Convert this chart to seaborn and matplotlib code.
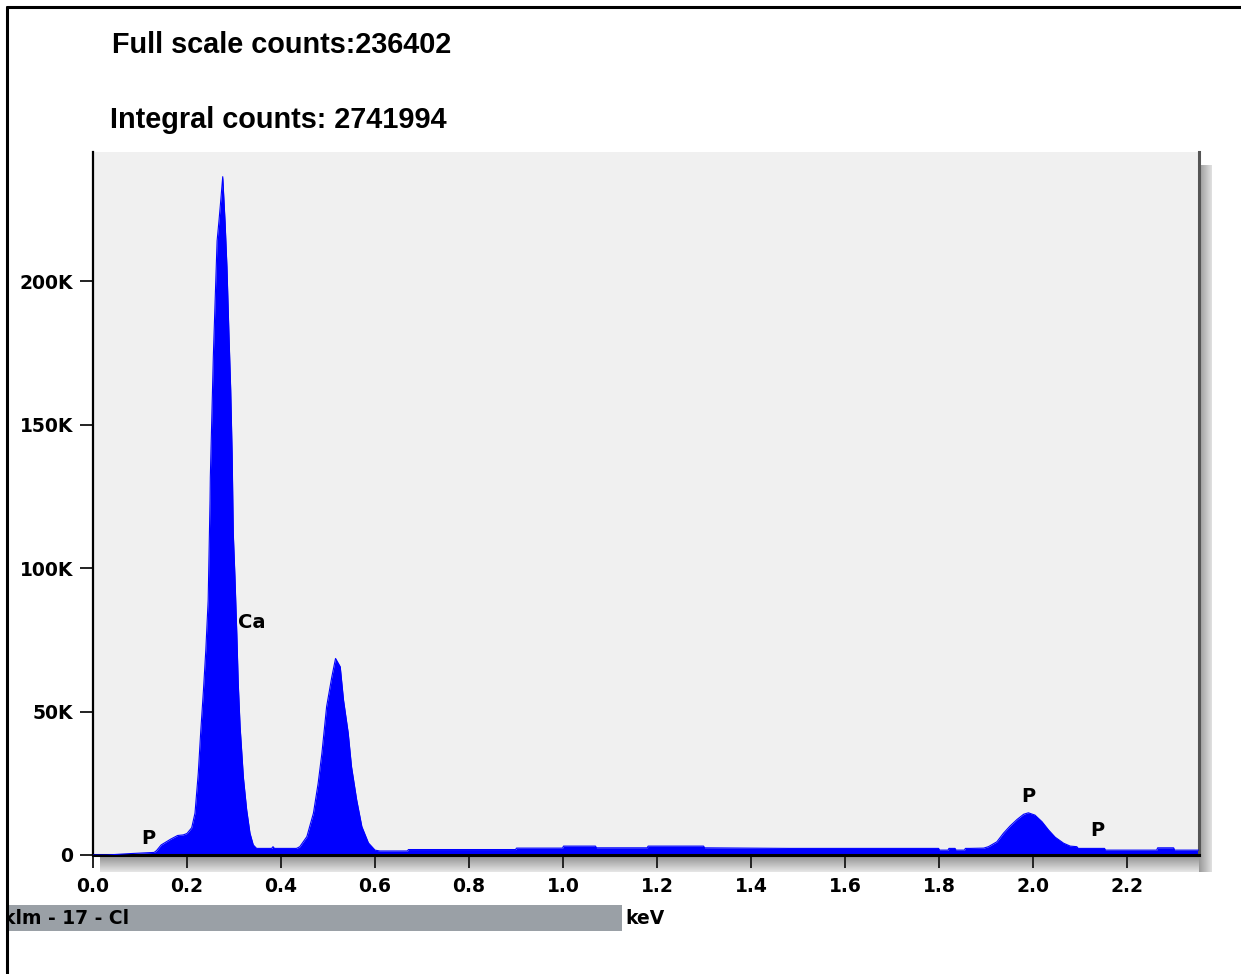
import numpy as np
import matplotlib
matplotlib.use("Agg")
import matplotlib.pyplot as plt
import seaborn as sns
from matplotlib.patches import Rectangle
from matplotlib.lines import Line2D

# ---------------- data ----------------
kev = [0.000, 0.030, 0.080, 0.130, 0.135, 0.145, 0.165, 0.180, 0.192, 0.200,
       0.210, 0.217, 0.224, 0.229, 0.235, 0.240, 0.245, 0.249, 0.2496, 0.253,
       0.256, 0.260, 0.264, 0.268, 0.272, 0.276, 0.281, 0.285, 0.289, 0.293,
       0.296, 0.2985, 0.302, 0.306, 0.309, 0.313, 0.320, 0.327, 0.334, 0.341,
       0.348, 0.380, 0.383, 0.386, 0.433, 0.440, 0.455, 0.469, 0.479, 0.487,
       0.497, 0.508, 0.516, 0.526, 0.533, 0.543, 0.550, 0.561, 0.572, 0.586,
       0.600, 0.610, 0.669, 0.671, 0.899, 0.901, 0.999, 1.001, 1.069, 1.071,
       1.179, 1.181, 1.299, 1.301, 1.480, 1.799, 1.801, 1.819, 1.821, 1.834,
       1.836, 1.854, 1.856, 1.864, 1.866, 1.895, 1.905, 1.923, 1.937, 1.951,
       1.966, 1.980, 1.990, 2.004, 2.019, 2.033, 2.047, 2.065, 2.079, 2.093,
       2.096, 2.152, 2.154, 2.263, 2.265, 2.299, 2.301, 2.353]
counts = [0, 0, 500, 900, 1500, 3500, 5500, 6800, 7000, 7500,
          9500, 14600, 28600, 42500, 57500, 71400, 88800, 123700, 131700, 154000,
          173800, 194000, 214000, 221000, 228500, 236402, 220600, 204900, 182900, 162000,
          140000, 112000, 97000, 77000, 60000, 44700, 27000, 15700, 7600, 3500,
          2300, 2300, 2900, 2300, 2300, 2900, 6400, 14600, 25000, 35500,
          51700, 62000, 68500, 65600, 54000, 42500, 30800, 19200, 9900, 4200,
          1700, 1400, 1400, 1900, 1900, 2400, 2400, 3100, 3100, 2500,
          2500, 3100, 3100, 2500, 2300, 2300, 1700, 1700, 2300, 2300,
          1700, 1700, 2300, 2300, 2300, 2400, 2900, 4600, 7600, 10100,
          12400, 14200, 14700, 13900, 11600, 8700, 6200, 4100, 3100, 2900,
          2300, 2300, 1700, 1700, 2500, 2500, 1700, 1700]

ytick_vals = [0, 50000, 100000, 150000, 200000]
ytick_labels = ["0", "50K", "100K", "150K", "200K"]
xtick_vals = [0.0, 0.2, 0.4, 0.6, 0.8, 1.0, 1.2, 1.4, 1.6, 1.8, 2.0, 2.2]
xtick_labels = ["0.0", "0.2", "0.4", "0.6", "0.8", "1.0", "1.2", "1.4", "1.6", "1.8", "2.0", "2.2"]

peak_names = ["P", "Ca", "P", "P"]
peak_x = [0.117, 0.3085, 1.989, 2.136]
peak_y = [5900, 81200, 20500, 8400]

header_full = "Full scale counts:236402"
header_integral = "Integral counts: 2741994"
sample_label = "klm - 17 - Cl"
unit_label = "keV"

# ---------------- figure ----------------
sns.set_theme(style="white")
plt.rcParams['font.family'] = ['DejaVu Sans']

W, H = 1241, 974
fig = plt.figure(figsize=(W / 100, H / 100), dpi=100)
fig.patch.set_facecolor("white")

def fx(px):
    return px / W

def fy(py):
    return 1 - py / H

# shadow strips (gradients)
grad_v = np.linspace(0.55, 0.9, 32).reshape(-1, 1)
sh_b = fig.add_axes([fx(100), fy(872), fx(1212) - fx(100), fy(855) - fy(872)])
sh_b.imshow(grad_v, aspect="auto", cmap="gray", vmin=0, vmax=1, extent=[0, 1, 0, 1], origin="upper")
sh_b.set_axis_off()
grad_h = np.linspace(0.6, 0.88, 32).reshape(1, -1)
sh_r = fig.add_axes([fx(1199), fy(872), fx(1212) - fx(1199), fy(165) - fy(872)])
sh_r.imshow(grad_h, aspect="auto", cmap="gray", vmin=0, vmax=1, extent=[0, 1, 0, 1])
sh_r.set_axis_off()

ax = fig.add_axes([fx(93), fy(855), fx(1199) - fx(93), fy(152) - fy(855)])
ax.set_zorder(3)
ax.set_facecolor("#f0f0f0")

df_x = np.array(kev)
df_y = np.array(counts)
ax.fill_between(df_x, 0, df_y, color="#0000ff", linewidth=0, zorder=2)
sns.lineplot(x=df_x, y=df_y, ax=ax, color="#0000ff", linewidth=0.8, zorder=3)

ax.set_xlim(0, 2.353)
ax.set_ylim(0, 245000)

ax.set_xticks(xtick_vals)
ax.set_xticklabels(xtick_labels)
ax.set_yticks(ytick_vals)
ax.set_yticklabels(ytick_labels)
ax.tick_params(axis="both", which="major", bottom=True, left=True, top=False, right=False,
               direction="out", length=9.5, width=1.4, color="#222222",
               labelsize=13.5, labelcolor="black", pad=5)
ax.tick_params(axis="x", pad=6)
for lab in ax.get_xticklabels() + ax.get_yticklabels():
    lab.set_fontweight("bold")
ax.set_xlabel("")
ax.set_ylabel("")

ax.spines["top"].set_visible(False)
ax.spines["left"].set_color("black")
ax.spines["left"].set_linewidth(1.6)
ax.spines["bottom"].set_color("black")
ax.spines["bottom"].set_linewidth(2.2)
ax.spines["right"].set_color("#555555")
ax.spines["right"].set_linewidth(2.2)

for name, px_, py_ in zip(peak_names, peak_x, peak_y):
    ha = "left" if name == "Ca" else "center"
    ax.text(px_, py_, name, ha=ha, va="center", fontsize=14, fontweight="bold",
            color="black", zorder=5)

# header texts
fig.text(fx(112), fy(45), header_full, ha="left", va="center", fontsize=20.8,
         fontweight="bold", family="Liberation Sans", color="black")
fig.text(fx(110), fy(120), header_integral, ha="left", va="center", fontsize=20.8,
         fontweight="bold", family="Liberation Sans", color="black")

# bottom bar
bar = Rectangle((fx(7), fy(931)), fx(622) - fx(7), fy(905) - fy(931),
                transform=fig.transFigure, facecolor="#9aa0a6", edgecolor="none")
fig.patches.append(bar)
t = fig.text(fx(3), fy(918), sample_label, ha="left", va="center", fontsize=13.5,
             fontweight="bold", color="black")
t.set_clip_path(bar)
fig.text(fx(625), fy(918), unit_label, ha="left", va="center", fontsize=13.5,
         fontweight="bold", color="black")

# outer frame lines
fig.lines.append(Line2D([fx(7), fx(7)], [fy(7), 0], transform=fig.transFigure,
                        color="black", linewidth=2.2))
fig.lines.append(Line2D([fx(7), 1], [fy(7), fy(7)], transform=fig.transFigure,
                        color="black", linewidth=2.2))

fig.savefig("out.png", dpi=100, facecolor="white")
